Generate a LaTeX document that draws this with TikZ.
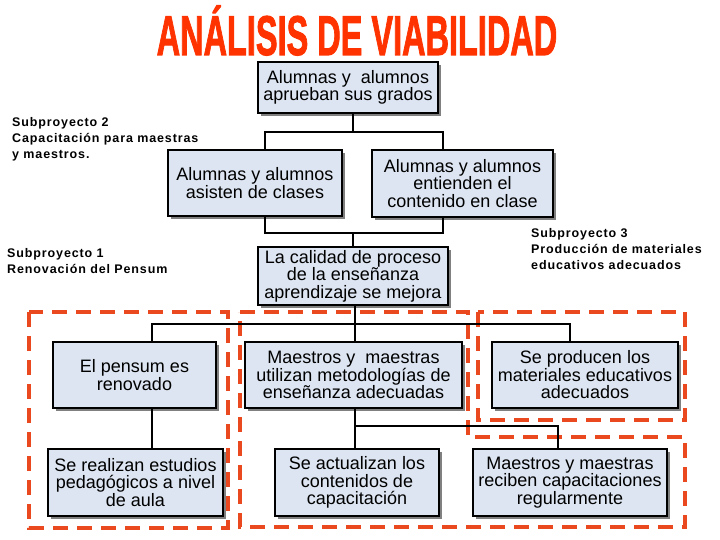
\documentclass[tikz,border=0pt]{standalone}
\usepackage{fontspec}
\setmainfont{Liberation Sans}
\newfontfamily\boxfont{Liberation Sans}
\newfontfamily\labfont[LetterSpace=7]{Liberation Sans Bold}
\newfontfamily\titlefont[FakeBold=2]{Liberation Sans Bold}
\usepackage{xcolor}
\usepackage{tikz}
\usetikzlibrary{shadows, positioning}

\definecolor{boxfill}{RGB}{220,229,241}
\definecolor{dashred}{RGB}{234,72,30}
\definecolor{titlered}{RGB}{255,51,0}

\begin{document}
\begin{tikzpicture}[
    x=1pt, y=-1pt,
    goal/.style={rectangle, draw, line width=1.6pt, fill=boxfill, align=center, inner sep=0pt,
        font=\boxfont\fontsize{18}{17.5}\selectfont,
        drop shadow={shadow xshift=3pt, shadow yshift=-3pt, fill=black!50, opacity=1}},
    conn/.style={line width=2.6pt},
    group/.style={draw=dashred, line width=4.5pt, dash pattern=on 15pt off 9pt},
    sublabel/.style={anchor=north west, align=left, inner sep=0pt, font=\labfont\fontsize{12.5}{16}\selectfont}
]
\useasboundingbox (0,0) rectangle (720,540);

% Title
\node[anchor=base, xscale=0.58, text=titlered, font=\titlefont\fontsize{56}{56}\selectfont] (title) at (357,55) {ANÁLISIS DE VIABILIDAD};

% Dashed groups (behind)
\draw[group] (29,312) rectangle (228,528);
\draw[group] (240,312) -- (468,312) -- (468,437) -- (685,437) -- (685,527) -- (240,527) -- cycle;
\draw[group] (478,312) rectangle (685,420);

% Connector junctions
\coordinate (j1) at (353,132);
\coordinate (b1) at (265,132);
\coordinate (b2) at (443,132);
\coordinate (b3) at (265,233);
\coordinate (b4) at (443,233);
\coordinate (j3) at (355,324);
\coordinate (b5) at (152,324);
\coordinate (b6) at (570,324);
\coordinate (j4) at (355,426);
\coordinate (b7) at (558,426);

% Goal
\node[goal, minimum width=180, minimum height=51] (aprueban) at (348,87.5) {Alumnas y~ alumnos\\aprueban sus grados};

% Purpose
\node[goal, minimum width=174, minimum height=66] (asisten) at (255,183) {Alumnas y alumnos\\asisten de clases};
\node[goal, minimum width=181, minimum height=67] (entienden) at (462.5,183.5) {Alumnas y alumnos\\entienden el\\contenido en clase};
\node[goal, minimum width=190, minimum height=58] (calidad) at (353,276) {La calidad de proceso\\de la enseñanza\\aprendizaje se mejora};

% Results
\node[goal, minimum width=163, minimum height=66] (pensum) at (134.5,375) {El pensum es\\renovado};
\node[goal, minimum width=217, minimum height=66] (utilizan) at (353.5,375) {Maestros y~ maestras\\utilizan metodologías de\\enseñanza adecuadas};
\node[goal, minimum width=186, minimum height=66] (producen) at (585,375) {Se producen los\\materiales educativos\\adecuados};

% Activities
\node[goal, minimum width=175, minimum height=67] (realizan) at (135.5,482.5) {Se realizan estudios\\pedagógicos a nivel\\de aula};
\node[goal, minimum width=164, minimum height=67] (actualizan) at (357,482.5) {Se actualizan los\\contenidos de\\capacitación};
\node[goal, minimum width=194, minimum height=67] (reciben) at (570,482.5) {Maestros y maestras\\reciben capacitaciones\\regularmente};

% Subproject labels
\node[sublabel] (sub2) at (12,117) {Subproyecto 2\\Capacitación para maestras\\y maestros.};
\node[sublabel] (sub1) at (7,248) {Subproyecto 1\\Renovación del Pensum};
\node[sublabel] (sub3) at (531,228) {Subproyecto 3\\Producción de materiales\\educativos adecuados};

% Connectors
\draw[conn] (aprueban.south -| j1) -- (j1);
\draw[conn] (asisten.north -| b1) |- (b2) -- (entienden.north -| b2);
\draw[conn] (asisten.south -| b3) |- (b4) -- (entienden.south -| b4);
\draw[conn] (calidad.north -| j1) -- (b3 -| j1);
\draw[conn] (calidad.south -| j3) -- (utilizan.north -| j3);
\draw[conn] (pensum.north -| b5) |- (b6) -- (producen.north -| b6);
\draw[conn] (pensum.south -| b5) -- (realizan.north -| b5);
\draw[conn] (utilizan.south -| j4) -- (actualizan.north -| j4);
\draw[conn] (j4) -| (reciben.north -| b7);

\end{tikzpicture}
\end{document}
